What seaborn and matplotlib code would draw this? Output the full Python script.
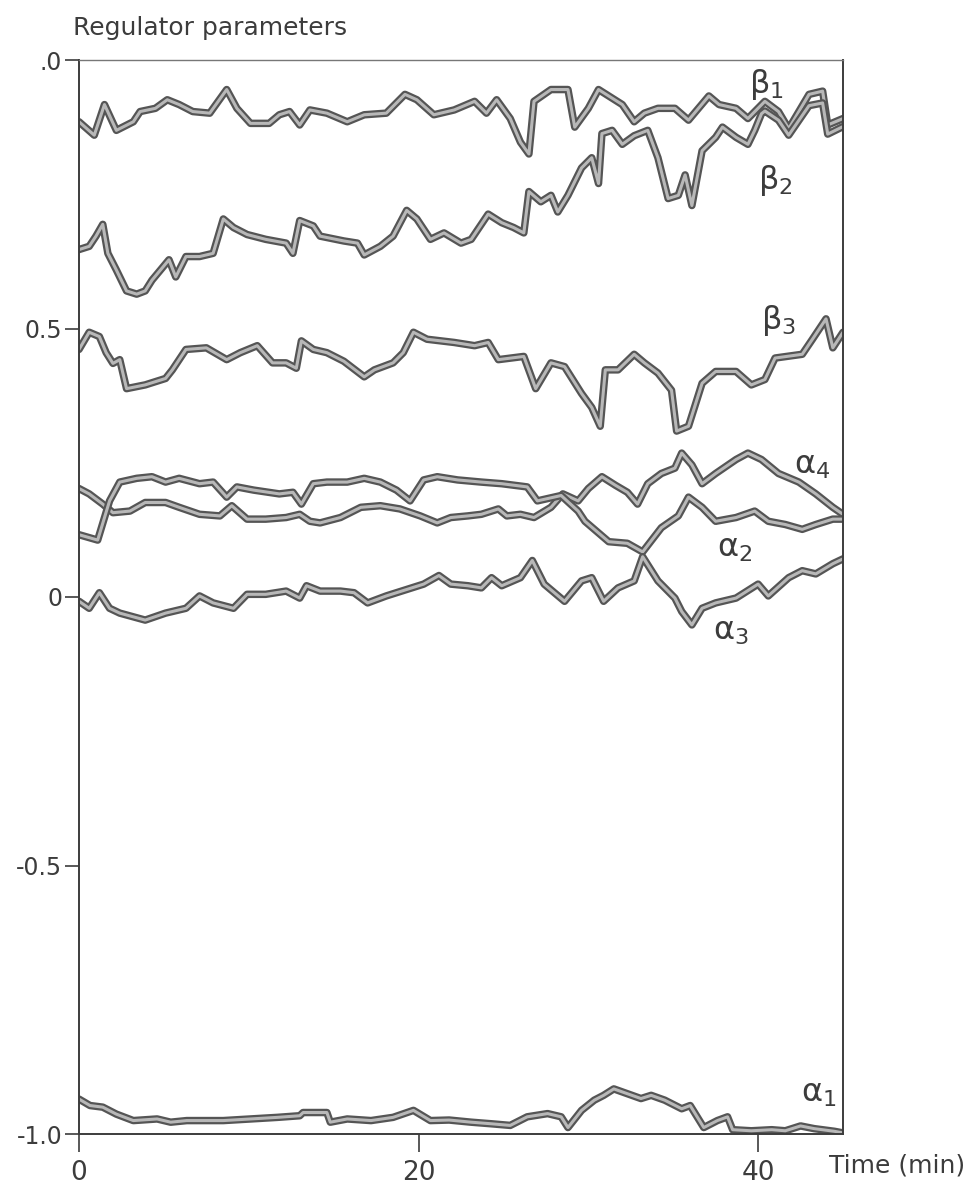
import matplotlib
matplotlib.use("Agg")
import matplotlib.pyplot as plt
import seaborn as sns
import pandas as pd

# ---------------- data ----------------
beta1_t = [0, 0.9, 1.5, 2.2, 3.2, 3.6, 4.5, 5.2, 5.9, 6.7, 7.7, 8.7, 9.3, 10.1, 11.2, 11.8, 12.4, 13.0, 13.6, 14.6,
           15.8, 16.8, 18.1, 19.2, 19.9, 20.9, 22.1, 23.3, 24.0, 24.6, 25.4, 26.0, 26.5, 26.8, 27.8, 28.8, 29.2, 30.0,
           30.6, 31.4, 32.0, 32.7, 33.3, 34.1, 35.1, 35.9, 37.1, 37.7, 38.7, 39.4, 40.4, 41.2, 41.8, 43.0, 43.8, 44.1, 45.0]
beta1_v = [0.885, 0.860, 0.917, 0.869, 0.885, 0.904, 0.910, 0.926, 0.917, 0.904, 0.901, 0.945, 0.910, 0.882, 0.882,
           0.898, 0.904, 0.879, 0.907, 0.901, 0.885, 0.898, 0.901, 0.936, 0.926, 0.898, 0.907, 0.923, 0.901, 0.926,
           0.891, 0.847, 0.825, 0.923, 0.945, 0.945, 0.875, 0.910, 0.945, 0.929, 0.917, 0.885, 0.901, 0.910, 0.910,
           0.888, 0.933, 0.917, 0.910, 0.891, 0.923, 0.904, 0.872, 0.936, 0.942, 0.879, 0.891]

beta2_t = [0, 0.6, 1.0, 1.4, 1.7, 2.2, 2.8, 3.4, 3.9, 4.3, 5.3, 5.7, 6.3, 7.1, 7.9, 8.5, 9.1, 9.9, 11.0, 12.2,
           12.6, 13.0, 13.8, 14.2, 15.6, 16.4, 16.8, 17.75, 18.5, 19.3, 19.9, 20.7, 21.5, 22.5, 23.1, 24.1, 24.9, 25.6,
           26.2, 26.5, 27.2, 27.8, 28.2, 28.8, 29.6, 30.2, 30.6, 30.8, 31.4, 32.0, 32.7, 33.5, 34.1, 34.7, 35.3, 35.7,
           36.1, 36.7, 37.5, 37.9, 38.7, 39.4, 39.8, 40.2, 40.4, 41.2, 41.8, 43.0, 43.8, 44.1, 45.0]
beta2_v = [0.647, 0.653, 0.672, 0.694, 0.640, 0.609, 0.570, 0.564, 0.570, 0.590, 0.628, 0.596, 0.634, 0.634, 0.640,
           0.704, 0.688, 0.675, 0.666, 0.659, 0.640, 0.701, 0.691, 0.672, 0.663, 0.659, 0.637, 0.653, 0.672, 0.720,
           0.704, 0.666, 0.678, 0.659, 0.666, 0.713, 0.697, 0.688, 0.678, 0.755, 0.736, 0.748, 0.717, 0.748, 0.799,
           0.818, 0.770, 0.863, 0.869, 0.843, 0.859, 0.869, 0.818, 0.742, 0.748, 0.786, 0.729, 0.831, 0.856, 0.875,
           0.856, 0.843, 0.869, 0.900, 0.905, 0.888, 0.860, 0.915, 0.920, 0.862, 0.876]

beta3_t = [0, 0.6, 1.2, 1.6, 2.0, 2.4, 2.8, 3.9, 5.1, 5.5, 6.3, 7.5, 8.7, 9.5, 10.5, 11.4, 12.2, 12.8, 13.1, 13.8,
           14.6, 15.6, 16.8, 17.4, 18.5, 19.1, 19.7, 20.5, 22.1, 23.3, 24.1, 24.7, 26.2, 26.9, 27.8, 28.6, 29.6, 30.2,
           30.7, 31.0, 31.75, 32.7, 33.3, 34.1, 34.9, 35.2, 35.9, 36.7, 37.5, 38.7, 39.6, 40.4, 41.0, 42.6, 43.2, 44.0,
           44.4, 45.0]
beta3_v = [0.461, 0.493, 0.485, 0.455, 0.435, 0.442, 0.388, 0.395, 0.407, 0.423, 0.461, 0.464, 0.442, 0.455, 0.468,
           0.436, 0.436, 0.426, 0.477, 0.461, 0.455, 0.439, 0.410, 0.423, 0.436, 0.455, 0.493, 0.480, 0.474, 0.468,
           0.474, 0.442, 0.448, 0.388, 0.436, 0.429, 0.379, 0.353, 0.318, 0.423, 0.423, 0.452, 0.436, 0.417, 0.385,
           0.309, 0.318, 0.398, 0.420, 0.420, 0.395, 0.405, 0.445, 0.452, 0.480, 0.518, 0.464, 0.493]

alpha4_t = [0, 0.6, 1.4, 2.0, 3.0, 3.9, 5.1, 5.9, 7.1, 8.3, 9.0, 9.9, 11.0, 12.2, 13.0, 13.6, 14.2, 15.4, 16.6, 17.75,
            18.9, 20.1, 21.1, 21.9, 22.9, 23.7, 24.7, 25.2, 26.0, 26.8, 27.8, 28.5, 29.4, 30.0, 30.8, 31.6, 32.3, 32.9,
            33.5, 34.3, 35.1, 35.5, 36.1, 36.7, 37.5, 38.7, 39.4, 40.2, 41.2, 42.4, 43.4, 44.4, 45.0]
alpha4_v = [0.202, 0.192, 0.173, 0.157, 0.160, 0.176, 0.176, 0.167, 0.154, 0.151, 0.170, 0.145, 0.145, 0.148, 0.154,
            0.141, 0.138, 0.148, 0.167, 0.170, 0.164, 0.151, 0.138, 0.148, 0.151, 0.154, 0.164, 0.151, 0.154, 0.148,
            0.167, 0.192, 0.179, 0.202, 0.224, 0.208, 0.195, 0.173, 0.211, 0.230, 0.240, 0.268, 0.246, 0.211, 0.230,
            0.256, 0.268, 0.256, 0.230, 0.214, 0.192, 0.167, 0.154]

alpha2_t = [0, 1.1, 1.8, 2.4, 3.4, 4.3, 5.1, 5.9, 7.1, 7.9, 8.7, 9.3, 10.3, 11.8, 12.6, 13.1, 13.8, 14.6, 15.8, 16.8,
            17.75, 18.7, 19.5, 20.3, 21.1, 22.3, 23.7, 24.9, 26.4, 27.0, 28.4, 29.4, 29.8, 31.2, 32.3, 33.2, 34.3, 35.3,
            35.9, 36.7, 37.5, 38.7, 39.8, 40.6, 41.6, 42.6, 43.4, 44.4, 45.0]
alpha2_v = [0.116, 0.106, 0.179, 0.214, 0.221, 0.224, 0.214, 0.221, 0.211, 0.214, 0.186, 0.205, 0.199, 0.192, 0.195,
            0.173, 0.211, 0.214, 0.214, 0.221, 0.214, 0.199, 0.179, 0.218, 0.224, 0.218, 0.214, 0.211, 0.205, 0.179,
            0.189, 0.160, 0.141, 0.103, 0.100, 0.084, 0.129, 0.151, 0.186, 0.167, 0.141, 0.148, 0.160, 0.141, 0.135,
            0.126, 0.135, 0.145, 0.145]

alpha3_t = [0, 0.6, 1.2, 1.8, 2.4, 3.9, 5.1, 6.3, 7.1, 7.9, 9.1, 9.9, 11.0, 12.2, 13.0, 13.4, 14.2, 15.4, 16.2, 17.0,
            18.1, 19.3, 20.3, 21.2, 21.9, 22.9, 23.7, 24.3, 24.9, 26.0, 26.7, 27.4, 28.6, 29.6, 30.2, 30.9, 31.75, 32.7,
            33.2, 34.1, 35.1, 35.5, 36.1, 36.7, 37.5, 38.7, 40.0, 40.6, 41.8, 42.6, 43.4, 44.4, 45.0]
alpha3_v = [-0.008, -0.021, 0.008, -0.021, -0.030, -0.043, -0.030, -0.021, 0.002, -0.011, -0.021, 0.005, 0.005, 0.011,
            -0.002, 0.021, 0.011, 0.011, 0.008, -0.011, 0.002, 0.014, 0.024, 0.040, 0.024, 0.021, 0.017, 0.036, 0.021,
            0.036, 0.068, 0.024, -0.008, 0.030, 0.036, -0.008, 0.017, 0.030, 0.075, 0.030, -0.002, -0.027, -0.052,
            -0.021, -0.011, -0.002, 0.024, 0.002, 0.036, 0.049, 0.043, 0.062, 0.071]

alpha1_t = [0, 0.65, 1.4, 2.2, 3.2, 4.6, 5.4, 6.35, 7.5, 8.5, 10.1, 11.7, 13.0, 13.2, 14.6, 14.8, 15.8, 17.2, 18.5, 19.7,
            20.7, 21.8, 23.1, 24.3, 25.4, 26.4, 27.6, 28.4, 28.8, 29.6, 30.35, 30.9, 31.5, 32.3, 33.1, 33.7, 34.5, 35.5,
            36.0, 36.8, 37.6, 38.2, 38.5, 39.6, 40.8, 41.6, 42.5, 43.3, 44.5, 45.0]
alpha1_v = [-0.935, -0.947, -0.950, -0.963, -0.975, -0.972, -0.978, -0.975, -0.975, -0.975, -0.972, -0.969, -0.966,
            -0.960, -0.960, -0.978, -0.972, -0.975, -0.969, -0.956, -0.975, -0.974, -0.978, -0.981, -0.984, -0.968,
            -0.962, -0.968, -0.988, -0.956, -0.937, -0.928, -0.916, -0.925, -0.934, -0.928, -0.937, -0.953, -0.947,
            -0.988, -0.975, -0.968, -0.992, -0.994, -0.992, -0.994, -0.985, -0.990, -0.995, -0.998]

series_names = ["beta1", "beta2", "beta3", "alpha4", "alpha2", "alpha3", "alpha1"]
series_labels = [r"$\mathrm{\beta}_1$", r"$\mathrm{\beta}_2$", r"$\mathrm{\beta}_3$", r"$\mathrm{\alpha}_4$",
                 r"$\mathrm{\alpha}_2$", r"$\mathrm{\alpha}_3$", r"$\mathrm{\alpha}_1$"]
series_data = [(beta1_t, beta1_v), (beta2_t, beta2_v), (beta3_t, beta3_v), (alpha4_t, alpha4_v),
               (alpha2_t, alpha2_v), (alpha3_t, alpha3_v), (alpha1_t, alpha1_v)]

y_ticks = [-1.0, -0.5, 0.0, 0.5, 1.0]
y_ticklabels = ["-1.0", "-0.5", "0", "0.5", ".0"]
x_ticks = [0, 20, 40]
x_ticklabels = ["0", "20", "40"]
title_text = "Regulator parameters"
xlabel_text = "Time (min)"

# ---------------- figure ----------------
sns.set_style("ticks")
plt.rcParams["font.family"] = ["DejaVu Sans"]
plt.rcParams["mathtext.fontset"] = "dejavusans"

W, H = 969, 1191
fig = plt.figure(figsize=(W / 100, H / 100), dpi=100)
ax = fig.add_axes([79 / W, (H - 1134) / H, (843 - 79) / W, (1134 - 60) / H])

ink = "#3c3c3c"
frames = []
for name, (t, v) in zip(series_names, series_data):
    frames.append(pd.DataFrame({"t": t, "v": v, "series": name}))
df = pd.concat(frames, ignore_index=True)

for name in series_names:
    d = df[df["series"] == name]
    sns.lineplot(data=d, x="t", y="v", ax=ax, color="#555555", lw=5.4,
                 estimator=None, sort=False, legend=False, solid_joinstyle="round")
    sns.lineplot(data=d, x="t", y="v", ax=ax, color="#b8b8b8", lw=2.2,
                 estimator=None, sort=False, legend=False, solid_joinstyle="round")

ax.set_xlim(0, 45)
ax.set_ylim(-1.0, 1.0)
ax.set_xticks(x_ticks)
ax.set_xticklabels(x_ticklabels)
ax.set_yticks(y_ticks)
ax.set_yticklabels(y_ticklabels)
ax.set_xlabel("")
ax.set_ylabel("")

for side in ["left", "right", "bottom"]:
    ax.spines[side].set_visible(True)
    ax.spines[side].set_color(ink)
    ax.spines[side].set_linewidth(1.4)
ax.spines["top"].set_visible(True)
ax.spines["top"].set_color("#777777")
ax.spines["top"].set_linewidth(1.0)

ax.tick_params(axis="y", direction="out", length=10, width=1.2, color=ink,
               labelsize=17, labelcolor=ink, pad=2)
ax.tick_params(axis="x", direction="out", length=13, width=1.2, color=ink,
               labelsize=19, labelcolor=ink, pad=6)

# series labels
label_pos = {
    "beta1": (40.5, 0.955),
    "beta2": (41.0, 0.775),
    "beta3": (41.2, 0.515),
    "alpha4": (43.2, 0.245),
    "alpha2": (38.6, 0.090),
    "alpha3": (38.4, -0.065),
    "alpha1": (43.6, -0.925),
}
for name, lab in zip(series_names, series_labels):
    x, y = label_pos[name]
    ax.text(x, y, lab, fontsize=23, color=ink, ha="center", va="center")

fig.text(73 / W, 1 - 28 / H, title_text, fontsize=18, color=ink, ha="left", va="center")
fig.text(965 / W, 1 - 1165 / H, xlabel_text, fontsize=18, color=ink, ha="right", va="center")

fig.savefig("out.png", dpi=100)
